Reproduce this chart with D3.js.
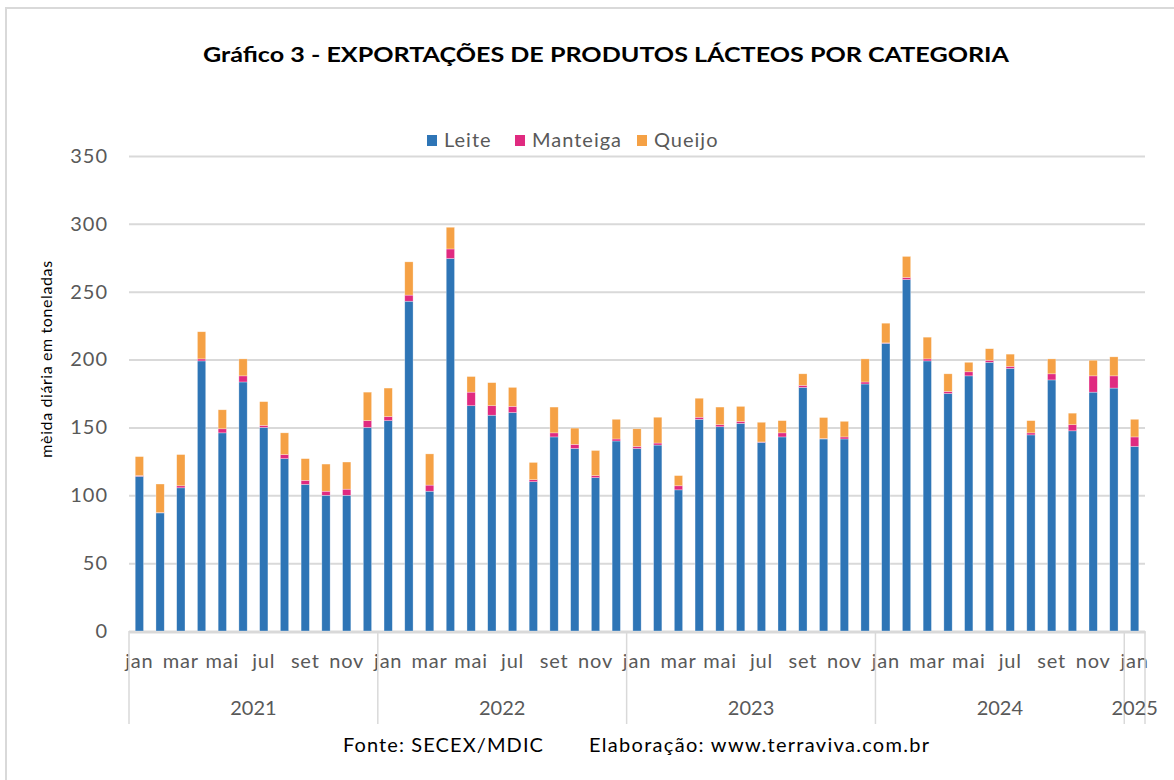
<!DOCTYPE html>
<html lang="pt">
	<head>
		<meta charset="utf-8">
		<title>Gráfico 3 - Exportações de produtos lácteos</title>
		<script type="text/javascript" src="https://cdn.jsdelivr.net/npm/d3@7"></script>
		<style type="text/css">
			body { margin: 0; background: #fff; }
			text { font-family: Lato, "Open Sans", sans-serif; fill: #595959; }
		</style>
	</head>
	<body>
		<script type="text/javascript">

            // Size of the whole picture
            var w = 1174;
            var h = 780;

            // Data: daily average exports (t), jan 2021 - jan 2025
            var years = ["2021", "2022", "2023", "2024", "2025"];
            var monthNames = ["jan", "fev", "mar", "abr", "mai", "jun", "jul", "ago", "set", "out", "nov", "dez"];
            var leite = [114, 87, 105.5, 199, 146, 183.5, 150, 127, 108, 100, 100, 150,
                         155, 243, 103, 274.5, 166, 159, 161, 110, 143, 134.5, 113, 140,
                         134.5, 137, 104, 156, 150.5, 153, 139, 143, 179.5, 141.5, 141.5, 182,
                         212, 259, 199, 175, 188, 198, 193.5, 144.5, 185, 147.5, 176, 179,
                         136];
            var manteiga = [0.5, 0.3, 1.5, 1.5, 3, 4.5, 1.5, 3, 3, 3, 4.5, 5,
                            3, 4.5, 4.5, 7, 10, 7, 4.5, 1.5, 3, 3, 1.5, 1.5,
                            1.5, 1.5, 3, 1.5, 1.5, 1.5, 0.3, 3, 1.5, 0.3, 1.5, 1.5,
                            0.3, 1.5, 1.5, 1.5, 3, 1.5, 1.5, 1.5, 4.5, 4.5, 12, 9,
                            7];
            var queijo = [14, 21, 23, 20, 14, 12.5, 17.5, 16, 16, 20, 20, 21,
                          21, 24.5, 23, 16, 11.5, 17, 14, 12.7, 19, 12, 18.5, 14.5,
                          13, 19, 7.5, 14, 13, 11, 14.5, 9, 8.5, 15.5, 11.5, 17,
                          14.5, 15.5, 16, 13, 7, 8.5, 9, 9, 11, 8.5, 11.5, 14,
                          13];
            var yTicks = [0, 50, 100, 150, 200, 250, 300, 350];
            var seriesNames = ["Leite", "Manteiga", "Queijo"];
            var colors = ["#2e75b6", "#e02a80", "#f5a145"];

            // one row per month for the stack
            var dataset = leite.map(function(d, i) {
                return { i: i, Leite: d, Manteiga: manteiga[i], Queijo: queijo[i] };
            });

            // plot box (note: "top" is taken by window.top)
            var plotLeft = 129, plotRight = 1145, plotTop = 156, plotBase = 631;

            var svg = d3.select("body")
                .append("svg")
                .attr("width", w)
                .attr("height", h);

            // light frame (only left/top edges show)
            svg.append("rect")
                .attr("x", 6).attr("y", 8)
                .attr("width", 1300).attr("height", 900)
                .attr("fill", "none")
                .attr("stroke", "#d9d9d9")
                .attr("stroke-width", 2);

            var x = d3.scaleBand()
                .domain(dataset.map(function(d) { return d.i; }))
                .range([plotLeft, plotRight])
                .paddingInner(0.6)
                .paddingOuter(0.3);

            var y = d3.scaleLinear()
                .domain([0, 350])
                .range([plotBase, plotTop]);

            // gridlines + y labels
            var yAxis = svg.append("g")
                .attr("transform", "translate(" + plotLeft + ",0)")
                .call(d3.axisLeft(y).tickValues(yTicks).tickSize(-(plotRight - plotLeft)).tickPadding(21));
            yAxis.select(".domain").remove();
            yAxis.selectAll("line").attr("stroke", "#d9d9d9").attr("stroke-width", 2);
            yAxis.selectAll("text")
                .style("font-size", "20px")
                .style("letter-spacing", "1px")
                .style("fill", "#595959");

            // stacked bars
            var stack = d3.stack().keys(seriesNames)(dataset);

            svg.selectAll("g.serie")
                .data(stack)
                .enter()
                .append("g")
                .attr("class", "serie")
                .attr("fill", function(d, k) { return colors[k]; })
                .selectAll("rect")
                .data(function(d) { return d; })
                .enter()
                .append("rect")
                .attr("x", function(d) { return x(d.data.i); })
                .attr("width", x.bandwidth())
                .attr("y", function(d) { return y(d[1]); })
                .attr("height", function(d) { return y(d[0]) - y(d[1]); })
                .attr("stroke", "#ffffff")
                .attr("stroke-opacity", 0.5)
                .attr("stroke-width", 0.6);

            // x axis: month labels every other month
            var xAxis = svg.append("g")
                .attr("transform", "translate(0," + (plotBase + 1) + ")")
                .call(d3.axisBottom(x)
                    .tickValues(dataset.filter(function(d) { return d.i % 2 === 0; }).map(function(d) { return d.i; }))
                    .tickSize(0)
                    .tickPadding(22)
                    .tickFormat(function(i) { return monthNames[i % 12]; }));
            xAxis.select(".domain").attr("stroke", "#d9d9d9").attr("stroke-width", 2);
            xAxis.selectAll("text")
                .style("font-size", "20px")
                .style("letter-spacing", "0.8px")
                .style("fill", "#595959");

            // year group separators
            var step = x.step();
            var bounds = [0, 12, 24, 36, 48].map(function(i) { return x(i) - step * 0.3; });
            bounds.push(plotRight);
            svg.selectAll("line.sep")
                .data(bounds)
                .enter()
                .append("line")
                .attr("class", "sep")
                .attr("x1", function(d) { return d; })
                .attr("x2", function(d) { return d; })
                .attr("y1", plotBase)
                .attr("y2", 724)
                .attr("stroke", "#d9d9d9")
                .attr("stroke-width", 1.5);

            svg.selectAll("text.year")
                .data(years)
                .enter()
                .append("text")
                .attr("class", "year")
                .attr("x", function(d, k) { return (bounds[k] + bounds[k + 1]) / 2; })
                .attr("y", 715)
                .attr("text-anchor", "middle")
                .style("font-size", "20px")
                .text(function(d) { return d; });

            // title
            svg.append("text")
                .attr("x", 606)
                .attr("y", 62)
                .attr("text-anchor", "middle")
                .attr("textLength", 806)
                .attr("lengthAdjust", "spacingAndGlyphs")
                .style("font-size", "21px")
                .style("font-weight", "bold")
                .style("fill", "#000")
                .text("Gráfico 3 - EXPORTAÇÕES DE PRODUTOS LÁCTEOS POR CATEGORIA");

            // legend
            var legendX = [427, 515, 637];
            var legend = svg.selectAll("g.legend")
                .data(seriesNames)
                .enter()
                .append("g")
                .attr("class", "legend")
                .attr("transform", function(d, k) { return "translate(" + legendX[k] + ",133)"; });
            legend.append("rect")
                .attr("width", 10).attr("height", 11).attr("y", 2)
                .attr("fill", function(d, k) { return colors[k]; });
            legend.append("text")
                .attr("x", 17).attr("y", 14)
                .style("font-size", "20px")
                .style("letter-spacing", "1px")
                .text(function(d) { return d; });

            // y axis title
            svg.append("text")
                .attr("transform", "translate(52,359) rotate(-90)")
                .attr("text-anchor", "middle")
                .style("font-size", "16px")
                .style("fill", "#000")
                .style("letter-spacing", "0.6px")
                .text("mèida diária em toneladas");

            // source
            svg.append("text")
                .attr("x", 343).attr("y", 752)
                .style("font-size", "20px")
                .style("letter-spacing", "1.1px")
                .style("fill", "#000")
                .text("Fonte: SECEX/MDIC");
            svg.append("text")
                .attr("x", 589).attr("y", 752)
                .style("font-size", "20px")
                .style("letter-spacing", "1.3px")
                .style("fill", "#000")
                .text("Elaboração: www.terraviva.com.br");

		</script>
	</body>
</html>
